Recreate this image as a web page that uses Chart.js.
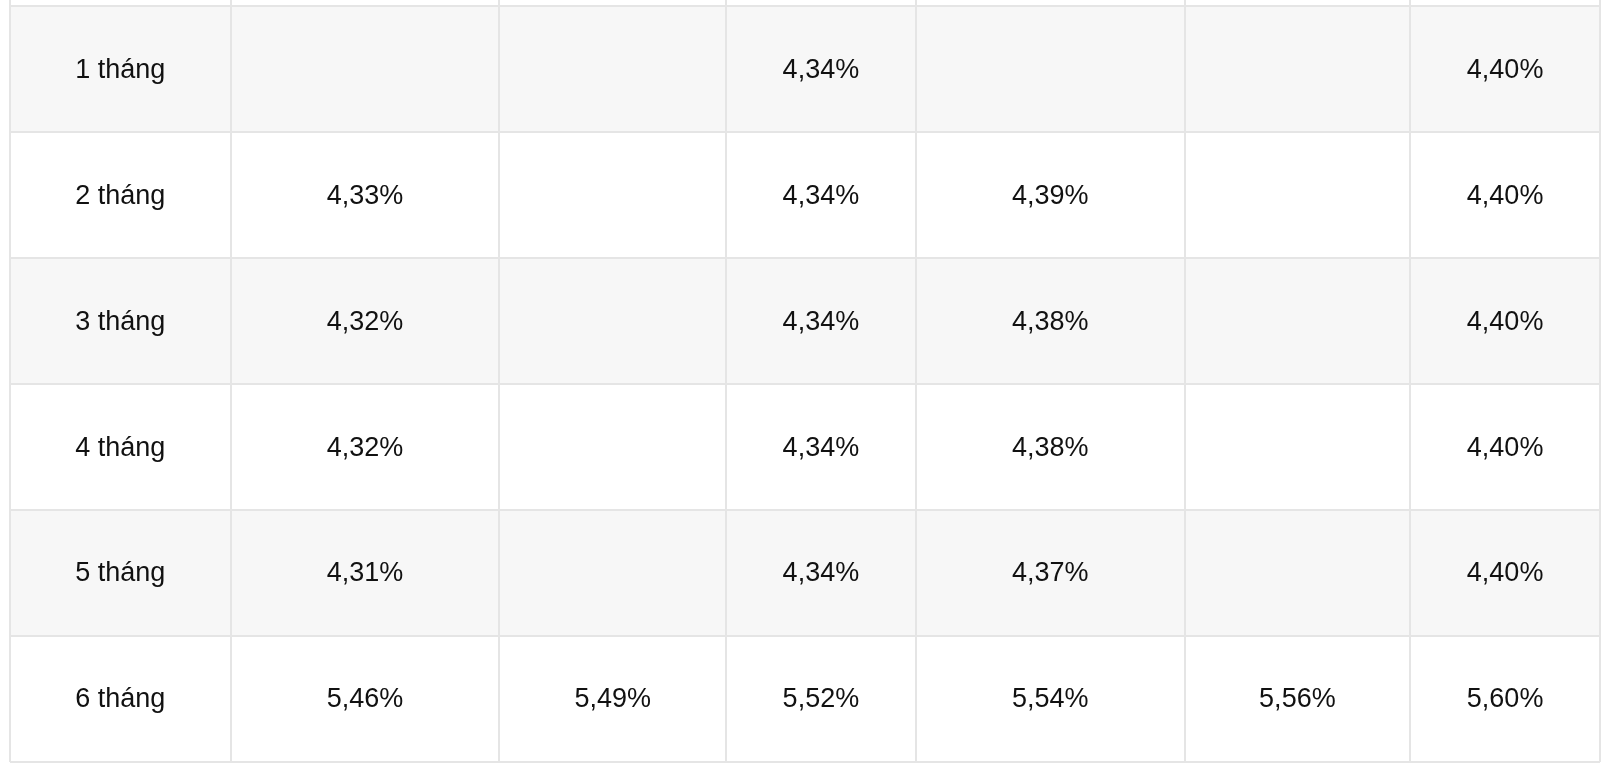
<!DOCTYPE html>
<html lang="vi">
<head>
<meta charset="UTF-8">
<title>Lãi suất</title>
<script src="https://cdn.jsdelivr.net/npm/chart.js"></script>
<style>
  html, body { margin: 0; padding: 0; background: #fff; }
  #wrap { width: 1608px; height: 764px; }
</style>
</head>
<body>
<div id="wrap"><canvas id="tbl"></canvas></div>
<script>
// dữ liệu
const rowLabels = ['1 tháng', '2 tháng', '3 tháng', '4 tháng', '5 tháng', '6 tháng'];
const col1 = [null, 4.33, 4.32, 4.32, 4.31, 5.46];
const col2 = [null, null, null, null, null, 5.49];
const col3 = [4.34, 4.34, 4.34, 4.34, 4.34, 5.52];
const col4 = [null, 4.39, 4.38, 4.38, 4.37, 5.54];
const col5 = [null, null, null, null, null, 5.56];
const col6 = [4.40, 4.40, 4.40, 4.40, 4.40, 5.60];

// layout: column edges in table units
const colEdges = [0, 215, 477, 698, 883, 1145, 1365, 1550];
const cols = [col1, col2, col3, col4, col5, col6];
const center = i => (colEdges[i] + colEdges[i + 1]) / 2;

const datasets = [{
  label: 'label',
  data: rowLabels.map((t, r) => ({ x: center(0), y: r + 0.5, text: t }))
}];
cols.forEach((c, ci) => {
  datasets.push({
    label: 'c' + ci,
    data: c.map((v, r) => v == null ? null : ({
      x: center(ci + 1), y: r + 0.5,
      text: v.toFixed(2).replace('.', ',') + '%'
    })).filter(d => d)
  });
});

const tablePlugin = {
  id: 'tablePlugin',
  beforeDatasetsDraw(chart) {
    const { ctx, scales: { x, y }, chartArea: a } = chart;
    ctx.save();
    rowLabels.forEach((_, r) => {
      if (r % 2 === 0) {
        ctx.fillStyle = '#f7f7f7';
        const t = y.getPixelForValue(r), b = y.getPixelForValue(r + 1);
        ctx.fillRect(x.getPixelForValue(0), t, x.getPixelForValue(1550) - x.getPixelForValue(0), b - t);
      }
    });
    ctx.strokeStyle = '#e5e5e5';
    ctx.lineWidth = 2;
    colEdges.forEach(e => {
      const px = Math.round(x.getPixelForValue(e));
      ctx.beginPath(); ctx.moveTo(px, a.top); ctx.lineTo(px, y.getPixelForValue(6)); ctx.stroke();
    });
    for (let r = 0; r <= rowLabels.length; r++) {
      const py = Math.round(y.getPixelForValue(r));
      ctx.beginPath(); ctx.moveTo(x.getPixelForValue(0), py); ctx.lineTo(x.getPixelForValue(1550), py); ctx.stroke();
    }
    ctx.restore();
  },
  afterDatasetsDraw(chart) {
    const { ctx } = chart;
    ctx.save();
    ctx.fillStyle = '#111';
    ctx.font = '27px "Liberation Sans", Arial, sans-serif';
    ctx.textAlign = 'center';
    ctx.textBaseline = 'middle';
    chart.data.datasets.forEach((ds, i) => {
      chart.getDatasetMeta(i).data.forEach((el, j) => {
        ctx.fillText(ds.data[j].text, el.x, el.y + 1);
      });
    });
    ctx.restore();
  }
};

new Chart(document.getElementById('tbl'), {
  type: 'scatter',
  data: { datasets },
  options: {
    responsive: true,
    maintainAspectRatio: false,
    animation: false,
    layout: { padding: { left: 10, right: 8, top: 0, bottom: 2 } },
    elements: { point: { radius: 0, hoverRadius: 0 } },
    plugins: { legend: { display: false }, tooltip: { enabled: false } },
    scales: {
      x: { type: 'linear', min: 0, max: 1550, display: false },
      y: { type: 'linear', min: -0.049, max: 6, reverse: true, display: false }
    }
  },
  plugins: [tablePlugin]
});
</script>
</body>
</html>
